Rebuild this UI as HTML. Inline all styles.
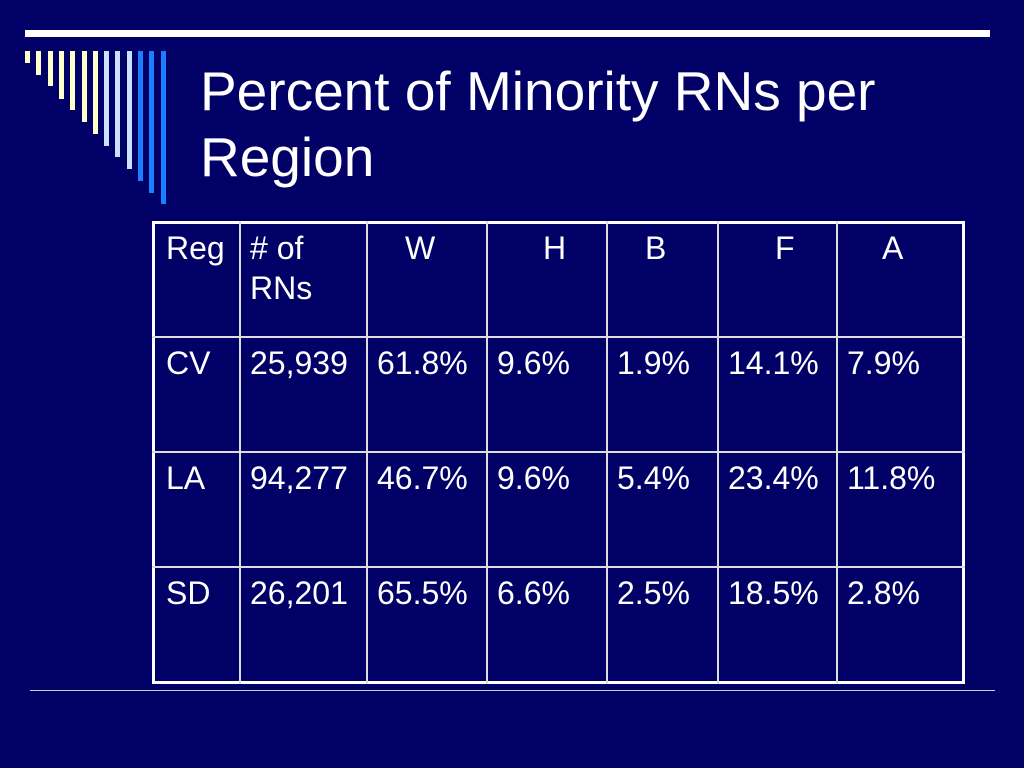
<!DOCTYPE html>
<html><head><meta charset="utf-8"><style>
body{margin:0;width:1024px;height:768px;background:#000066;overflow:hidden;position:relative;font-family:"Liberation Sans",Arial,sans-serif;color:#fff}
.a{position:absolute}
.t{position:absolute;font-size:32px;line-height:40px;white-space:nowrap}
</style></head><body>
<div class="a" style="left:25px;top:30px;width:965px;height:7px;background:#fff"></div>
<div id="bars"></div>
<div class="a" style="left:200px;top:58px;font-size:55px;line-height:66px;white-space:nowrap">Percent of Minority RNs per<br>Region</div>
<div class="a" style="left:30px;top:690px;width:965px;height:1px;background:#ccc"></div>
<div class="a" style="left:152px;top:221px;width:807px;height:457px;border:3px solid #fff"></div>
<div id="grid"></div>
<script>
const cols=[152,239,366,486,606,717,836,965];
const rows=[221,336,451,566,684];
const headers=["Reg"," # of<br>RNs","W","H","B","F","A"];
const headerX=[166,250,405,543,645,775,882];
const regions=["CV","LA","SD"];
const counts=["25,939","94,277","26,201"];
const W=["61.8%","46.7%","65.5%"];
const H=["9.6%","9.6%","6.6%"];
const B=["1.9%","5.4%","2.5%"];
const F=["14.1%","23.4%","18.5%"];
const A=["7.9%","11.8%","2.8%"];
const g=document.getElementById('grid');
for(let i=1;i<cols.length-1;i++){const d=document.createElement('div');d.className='a';


d.style.cssText=`left:${cols[i]}px;top:${rows[0]}px;width:2px;height:${rows[4]-rows[0]}px;background:#ddd`;g.appendChild(d);}
for(let i=1;i<rows.length-1;i++){const d=document.createElement('div');d.className='a';


d.style.cssText=`left:${cols[0]}px;top:${rows[i]}px;width:${cols[7]-cols[0]}px;height:2px;background:#ddd`;g.appendChild(d);}
headers.forEach((h,i)=>{const d=document.createElement('div');d.className='t';


d.style.left=headerX[i]+'px';d.style.top='228px';d.innerHTML=h;g.appendChild(d);});
const data=[regions,counts,W,H,B,F,A];
for(let r=0;r<3;r++)for(let c=0;c<7;c++){const d=document.createElement('div');d.className='t';


d.style.left=(c==0?166:cols[c]+11)+'px';d.style.top=(rows[r+1]+7)+'px';d.textContent=data[c][r];g.appendChild(d);}
const ends=[63,75,86,99,110,122,134,146,157,169,181,193,204];
const bb=document.getElementById('bars');
ends.forEach((e,i)=>{const d=document.createElement('div');d.className='a';


const col=i<7?'#ffffcc':(i<10?'#cce0ff':'#1a80ff');
d.style.cssText=`left:${25+i*11.3}px;top:51px;width:5px;height:${e-51}px;background:${col}`;bb.appendChild(d);});
</script>
</body></html>
